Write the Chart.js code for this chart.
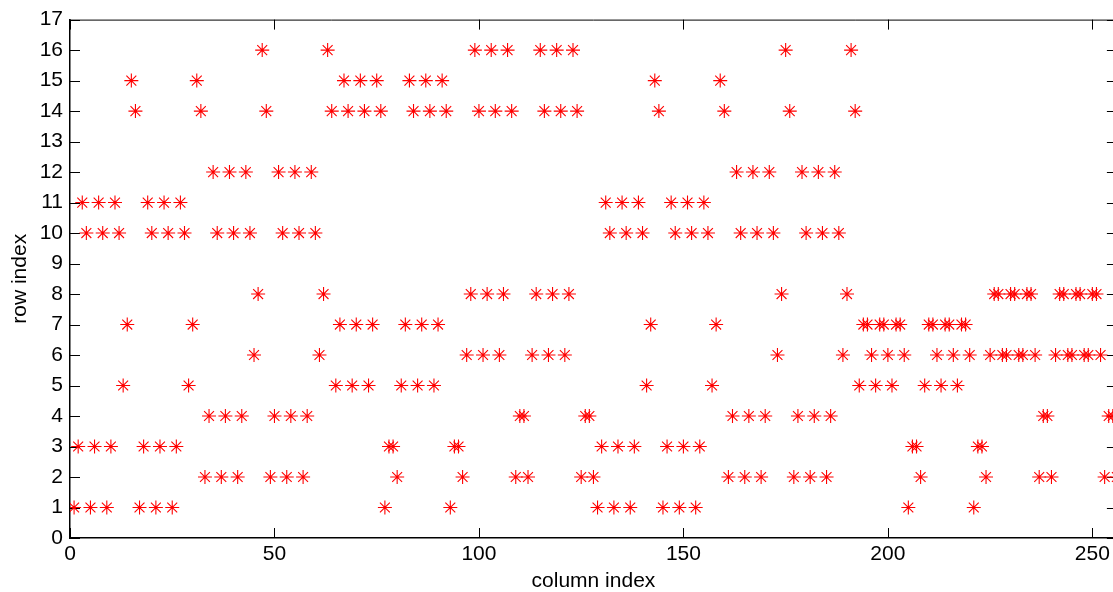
<!DOCTYPE html>
<html>
<head>
<meta charset="utf-8">
<script src="https://cdn.jsdelivr.net/npm/chart.js@4.4.1/dist/chart.umd.min.js"></script>
<style>
  html, body { margin: 0; padding: 0; background: #fff; overflow: hidden; }
  #wrap { position: relative; width: 1125px; height: 592px; }
</style>
</head>
<body>
<div id="wrap"><canvas id="pattern-chart"></canvas></div>
<script>
// row index of the single marker in each column (columns 1..256, left to right)
const rowOfColumn = [
  1, 3, 11, 10,  1, 3, 11, 10,  1, 3, 11, 10,  5, 7, 15, 14,
  1, 3, 11, 10,  1, 3, 11, 10,  1, 3, 11, 10,  5, 7, 15, 14,
  2, 4, 12, 10,  2, 4, 12, 10,  2, 4, 12, 10,  6, 8, 16, 14,
  2, 4, 12, 10,  2, 4, 12, 10,  2, 4, 12, 10,  6, 8, 16, 14,
  5, 7, 15, 14,  5, 7, 15, 14,  5, 7, 15, 14,  1, 3, 3, 2,
  5, 7, 15, 14,  5, 7, 15, 14,  5, 7, 15, 14,  1, 3, 3, 2,
  6, 8, 16, 14,  6, 8, 16, 14,  6, 8, 16, 14,  2, 4, 4, 2,
  6, 8, 16, 14,  6, 8, 16, 14,  6, 8, 16, 14,  2, 4, 4, 2,
  1, 3, 11, 10,  1, 3, 11, 10,  1, 3, 11, 10,  5, 7, 15, 14,
  1, 3, 11, 10,  1, 3, 11, 10,  1, 3, 11, 10,  5, 7, 15, 14,
  2, 4, 12, 10,  2, 4, 12, 10,  2, 4, 12, 10,  6, 8, 16, 14,
  2, 4, 12, 10,  2, 4, 12, 10,  2, 4, 12, 10,  6, 8, 16, 14,
  5, 7, 7, 6,  5, 7, 7, 6,  5, 7, 7, 6,  1, 3, 3, 2,
  5, 7, 7, 6,  5, 7, 7, 6,  5, 7, 7, 6,  1, 3, 3, 2,
  6, 8, 8, 6,  6, 8, 8, 6,  6, 8, 8, 6,  2, 4, 4, 2,
  6, 8, 8, 6,  6, 8, 8, 6,  6, 8, 8, 6,  2, 4, 4, 2
];
const xTicks = [0, 50, 100, 150, 200, 250];
const yTicks = [0, 1, 2, 3, 4, 5, 6, 7, 8, 9, 10, 11, 12, 13, 14, 15, 16, 17];

const points = rowOfColumn.map((r, i) => ({ x: i + 1, y: r }));
const FONT = "'Liberation Sans', Arial, Helvetica, sans-serif";

// MATLAB style: frame on all sides, ticks pointing inward
const inwardTicks = {
  id: 'inwardTicks',
  beforeDatasetsDraw(chart) {
    const { ctx, chartArea: a, scales: { x, y } } = chart;
    const len = 10;
    ctx.save();
    ctx.strokeStyle = '#000';
    ctx.lineWidth = 1;
    ctx.beginPath();
    ctx.moveTo(a.left, a.top + 0.5); ctx.lineTo(a.right, a.top + 0.5);
    ctx.moveTo(a.right - 0.5, a.top); ctx.lineTo(a.right - 0.5, a.bottom);
    xTicks.forEach(v => {
      const px = Math.round(x.getPixelForValue(v)) + 0.5;
      ctx.moveTo(px, a.bottom); ctx.lineTo(px, a.bottom - len);
      ctx.moveTo(px, a.top); ctx.lineTo(px, a.top + len);
    });
    yTicks.forEach(v => {
      const py = Math.round(y.getPixelForValue(v)) + 0.5;
      ctx.moveTo(a.left, py); ctx.lineTo(a.left + len, py);
      ctx.moveTo(a.right, py); ctx.lineTo(a.right - len, py);
    });
    ctx.stroke();
    ctx.restore();
  }
};

new Chart(document.getElementById('pattern-chart'), {
  type: 'scatter',
  data: {
    datasets: [{
      data: points,
      pointStyle: 'star',
      pointRadius: 7,
      pointBorderWidth: 1.1,
      borderColor: '#ff0000',
      backgroundColor: '#ff0000',
      showLine: false
    }]
  },
  options: {
    responsive: true,
    maintainAspectRatio: false,
    animation: false,
    events: [],
    layout: { padding: { left: 0, top: 18, right: 4, bottom: 0 } },
    plugins: { legend: { display: false }, tooltip: { enabled: false } },
    scales: {
      x: {
        type: 'linear',
        min: 0,
        max: 256,
        afterFit(scale) { scale.height = 54; },
        afterBuildTicks(scale) { scale.ticks = xTicks.map(v => ({ value: v })); },
        grid: { display: false, drawTicks: false },
        border: { display: true, color: '#000', width: 1.5 },
        ticks: { color: '#000', padding: 4, font: { family: FONT, size: 21 } },
        title: {
          display: true, text: 'column index', color: '#000',
          padding: { top: 0, bottom: 0 },
          font: { family: FONT, size: 21, lineHeight: 1 }
        }
      },
      y: {
        type: 'linear',
        min: 0,
        max: 17,
        afterFit(scale) { scale.width = 70; },
        afterBuildTicks(scale) { scale.ticks = yTicks.map(v => ({ value: v })); },
        grid: { display: false, drawTicks: false },
        border: { display: true, color: '#000', width: 1.5 },
        ticks: { color: '#000', padding: 7, font: { family: FONT, size: 21 } },
        title: {
          display: true, text: 'row index', color: '#000',
          padding: { top: 10, bottom: 0 },
          font: { family: FONT, size: 21, lineHeight: 1 }
        }
      }
    }
  },
  plugins: [inwardTicks]
});
</script>
</body>
</html>
